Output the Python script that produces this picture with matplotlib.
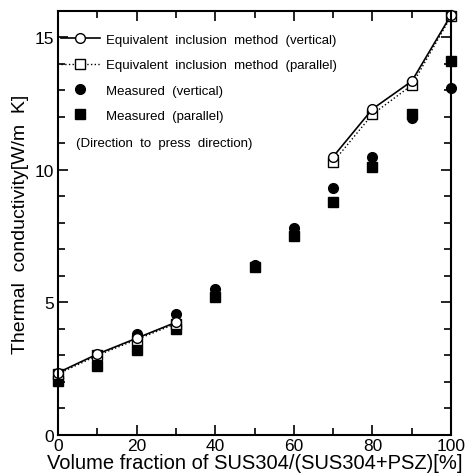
import matplotlib.pyplot as plt
from matplotlib.ticker import MultipleLocator

plt.rcParams['font.family'] = ['Liberation Sans', 'DejaVu Sans']

# Volume fraction of SUS304 [%]
x_low = [0, 10, 20, 30]
x_high = [70, 80, 90, 100]
x_all = [0, 10, 20, 30, 40, 50, 60, 70, 80, 90, 100]

# Equivalent inclusion method
eq_vert_low = [2.35, 3.05, 3.65, 4.25]
eq_vert_high = [10.5, 12.3, 13.35, 15.85]
eq_par_low = [2.3, 3.0, 3.6, 4.2]
eq_par_high = [10.3, 12.1, 13.2, 15.8]

# Measured
meas_vert = [2.1, 2.95, 3.8, 4.55, 5.5, 6.4, 7.8, 9.3, 10.5, 11.95, 13.1]
meas_par = [2.05, 2.6, 3.2, 4.0, 5.2, 6.35, 7.5, 8.8, 10.1, 12.1, 14.1]

fig = plt.figure(figsize=(4.67, 4.77), dpi=100)
ax = fig.add_axes([0.124, 0.086, 0.842, 0.889])

ms = 7
ax.plot(x_all, meas_par, 's', color='black', ms=ms - 0.5, clip_on=False, label='Measured  (parallel)')
ax.plot(x_all, meas_vert, 'o', color='black', ms=ms, clip_on=False, label='Measured  (vertical)')

ax.plot(x_low, eq_par_low, ':s', color='black', mfc='white', ms=ms - 0.5, lw=1, clip_on=False)
ax.plot(x_high, eq_par_high, ':s', color='black', mfc='white', ms=ms - 0.5, lw=1, clip_on=False,
        label='Equivalent  inclusion  method  (parallel)')
ax.plot(x_low, eq_vert_low, '-o', color='black', mfc='white', ms=ms, lw=1.2, clip_on=False)
ax.plot(x_high, eq_vert_high, '-o', color='black', mfc='white', ms=ms, lw=1.2, clip_on=False,
        label='Equivalent  inclusion  method  (vertical)')

h, l = ax.get_legend_handles_labels()
order = [3, 2, 1, 0]
ax.legend([h[i] for i in order], [l[i] for i in order], loc='upper left', frameon=False,
          fontsize=9.5, handlelength=3.0, handletextpad=0.45, labelspacing=1.0,
          borderaxespad=0.0, borderpad=0.2, bbox_to_anchor=(0.0, 0.953))
ax.text(0.045, 0.688, '(Direction  to  press  direction)', transform=ax.transAxes,
        fontsize=9.5, va='center')

ax.set_xlim(0, 100)
ax.set_ylim(0, 16)
ax.xaxis.set_major_locator(MultipleLocator(20))
ax.xaxis.set_minor_locator(MultipleLocator(10))
ax.yaxis.set_major_locator(MultipleLocator(5))
ax.yaxis.set_minor_locator(MultipleLocator(1))
ax.tick_params(which='both', direction='in', top=True, right=True, width=1.2, labelsize=12.5)
ax.tick_params(which='major', length=7, pad=2.5)
ax.tick_params(which='minor', length=5)
for s in ax.spines.values():
    s.set_linewidth(1.5)

ax.set_xlabel('Volume fraction of SUS304/(SUS304+PSZ)[%]', fontsize=14.5, labelpad=0)
ax.set_ylabel('Thermal  conductivity[W/m  K]', fontsize=14, labelpad=4)

fig.savefig('out.png', dpi=100)
